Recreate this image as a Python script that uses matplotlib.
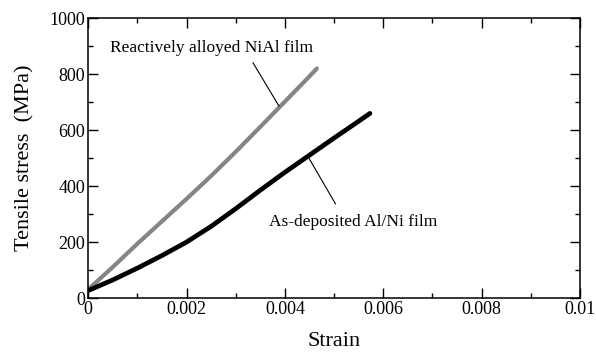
import matplotlib
matplotlib.use("Agg")
import matplotlib.pyplot as plt
from matplotlib.ticker import MultipleLocator, FuncFormatter

# Data
strain_nial = [0.0, 0.0005, 0.001, 0.0015, 0.002, 0.0025, 0.003, 0.0035, 0.004, 0.0045, 0.00465]
stress_nial = [32, 112, 195, 275, 355, 437, 523, 612, 702, 792, 820]

strain_alni = [0.0, 0.0005, 0.001, 0.0015, 0.002, 0.0025, 0.003, 0.0035, 0.004, 0.0045, 0.005, 0.0055, 0.00573]
stress_alni = [28, 66, 108, 153, 201, 257, 320, 386, 450, 511, 572, 632, 660]

label_nial = "Reactively alloyed NiAl film"
label_alni = "As-deposited Al/Ni film"
xlabel = "Strain"
ylabel = "Tensile stress  (MPa)"

plt.rcParams['font.family'] = ['Liberation Serif', 'DejaVu Serif']

fig = plt.figure(figsize=(5.96, 3.54), dpi=100)
ax = fig.add_axes([0.148, 0.157, 0.825, 0.792])

ax.plot(strain_nial, stress_nial, color='#858585', lw=3.0, solid_capstyle='round')
ax.plot(strain_alni, stress_alni, color='black', lw=3.4, solid_capstyle='round')

ax.set_xlim(0, 0.01)
ax.set_ylim(0, 1000)
ax.xaxis.set_major_locator(MultipleLocator(0.002))
ax.xaxis.set_minor_locator(MultipleLocator(0.001))
ax.yaxis.set_major_locator(MultipleLocator(200))
ax.yaxis.set_minor_locator(MultipleLocator(100))

def xfmt(v, pos):
    if abs(v) < 1e-12:
        return "0"
    return ("%.3f" % v).rstrip('0')
ax.xaxis.set_major_formatter(FuncFormatter(xfmt))

ax.tick_params(which='both', direction='in', top=True, right=True, labelsize=13, width=1.0, pad=2)
ax.tick_params(which='major', length=7)
ax.tick_params(which='minor', length=3.5)
for s in ax.spines.values():
    s.set_linewidth(1.1)

ax.set_xlabel(xlabel, fontsize=16, labelpad=10)
ax.set_ylabel(ylabel, fontsize=16, labelpad=11)

# annotations
ax.text(0.002516, 894, label_nial, fontsize=12.5, ha='center', va='center')
ax.annotate("", xy=(0.00388, 686), xytext=(0.00335, 841),
            arrowprops=dict(arrowstyle='-', color='black', lw=0.8, shrinkA=0, shrinkB=0))
ax.text(0.00539, 272, label_alni, fontsize=12.5, ha='center', va='center')
ax.annotate("", xy=(0.00447, 506), xytext=(0.00503, 337),
            arrowprops=dict(arrowstyle='-', color='black', lw=0.8, shrinkA=0, shrinkB=0))

fig.savefig("out.png", dpi=100)
